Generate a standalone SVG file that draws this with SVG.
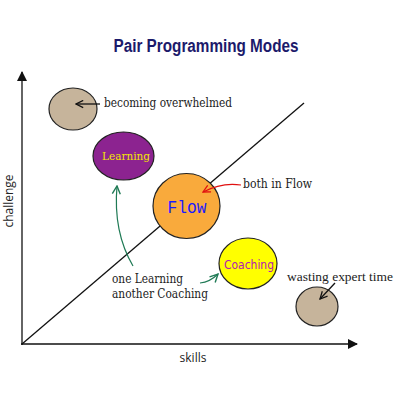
<svg xmlns="http://www.w3.org/2000/svg" width="400" height="400" viewBox="0 0 400 400">
<defs>
<style>
.hand{font-family:"DejaVu Serif","Liberation Serif",serif;font-size:12px;fill:#222;}
.hand2{font-family:"Liberation Serif","DejaVu Serif",serif;font-size:12.5px;fill:#222;}
.ax{font-family:"Open Sans","DejaVu Sans",sans-serif;font-size:12px;fill:#222;}
.node{stroke:#222;stroke-width:1.2;}
.ln{stroke:#111;stroke-width:1.3;fill:none;}
</style>
<marker id="tri" viewBox="0 0 10 10" refX="9" refY="5" markerWidth="10" markerHeight="10" markerUnits="userSpaceOnUse" orient="auto"><path d="M0,0 L10,5 L0,10 z" fill="#111"/></marker>
<marker id="openB" viewBox="0 0 10 10" refX="9" refY="5" markerWidth="9" markerHeight="9" markerUnits="userSpaceOnUse" orient="auto"><path d="M1,1 L9,5 L1,9" fill="none" stroke="#111" stroke-width="1.4"/></marker>
<marker id="openR" viewBox="0 0 10 10" refX="9" refY="5" markerWidth="9" markerHeight="9" markerUnits="userSpaceOnUse" orient="auto"><path d="M1,1 L9,5 L1,9" fill="none" stroke="#e01010" stroke-width="1.4"/></marker>
<marker id="openG" viewBox="0 0 10 10" refX="9" refY="5" markerWidth="10" markerHeight="10" markerUnits="userSpaceOnUse" orient="auto"><path d="M1,1 L9,5 L1,9" fill="none" stroke="#1f7a55" stroke-width="1.4"/></marker>
</defs>
<rect width="400" height="400" fill="#fff"/>
<text x="206" y="52" text-anchor="middle" font-family="'Liberation Sans Narrow','Liberation Sans',sans-serif" font-weight="bold" font-size="18" fill="#1c1a6b" textLength="185" lengthAdjust="spacingAndGlyphs">Pair Programming Modes</text>
<g id="axes">
<line class="ln" x1="22" y1="345" x2="22" y2="72" marker-end="url(#tri)"/>
<line class="ln" x1="21" y1="344" x2="357" y2="344" marker-end="url(#tri)"/>
<line class="ln" x1="22" y1="344" x2="304" y2="103" stroke-width="1.1"/>
</g>
<g id="node-overwhelmed">
<ellipse class="node" cx="73" cy="109" rx="24" ry="21" fill="#c6b49b"/>
</g>
<g id="node-learning">
<ellipse class="node" cx="123.5" cy="156" rx="30.5" ry="24" fill="#8c2390"/>
<text x="126" y="160" text-anchor="middle" font-family="'DejaVu Serif',serif" font-size="11" fill="#f2e600" textLength="48" lengthAdjust="spacingAndGlyphs">Learning</text>
</g>
<g id="node-flow">
<ellipse class="node" cx="186.5" cy="206" rx="33.5" ry="32.5" fill="#f9aa3c"/>
<text x="187" y="213" text-anchor="middle" font-family="'Liberation Mono','DejaVu Sans Mono',monospace" font-size="19" fill="#1a1aff" textLength="39" lengthAdjust="spacingAndGlyphs">Flow</text>
</g>
<g id="node-coaching">
<ellipse class="node" cx="248" cy="263.5" rx="29" ry="25.5" fill="#ffff00"/>
<text x="249" y="269" text-anchor="middle" font-family="'DejaVu Sans',sans-serif" font-size="11.5" fill="#b020b0" textLength="50" lengthAdjust="spacingAndGlyphs">Coaching</text>
</g>
<g id="node-wasting">
<ellipse class="node" cx="317" cy="306.5" rx="21" ry="19.5" fill="#c6b49b"/>
</g>
<g id="connectors">
<path d="M100,104 L76,104" stroke="#111" stroke-width="1.3" fill="none" marker-end="url(#openB)"/>
<path d="M241,185 Q222,182 203,192" stroke="#e01010" stroke-width="1.2" fill="none" marker-end="url(#openR)"/>
<path d="M133,266 Q113,232 117,186" stroke="#1f7a55" stroke-width="1.2" fill="none" marker-end="url(#openG)"/>
<path d="M200,283 Q210,282 218,274" stroke="#1f7a55" stroke-width="1.2" fill="none" marker-end="url(#openG)"/>
<path d="M335,283 L320,299" stroke="#111" stroke-width="1.3" fill="none" marker-end="url(#openB)"/>
</g>
<text class="hand" x="104" y="107" textLength="128" lengthAdjust="spacingAndGlyphs">becoming overwhelmed</text>
<text class="hand" x="243" y="188" textLength="69" lengthAdjust="spacingAndGlyphs">both in Flow</text>
<text class="hand2" x="287" y="281" textLength="106" lengthAdjust="spacingAndGlyphs">wasting expert time</text>
<text class="hand" x="112" y="283" textLength="71" lengthAdjust="spacingAndGlyphs">one Learning</text>
<text class="hand" x="112" y="298" textLength="96" lengthAdjust="spacingAndGlyphs">another Coaching</text>
<text class="ax" x="193" y="362" text-anchor="middle">skills</text>
<text class="ax" x="0" y="0" text-anchor="middle" transform="translate(13,201) rotate(-90)">challenge</text>
</svg>
